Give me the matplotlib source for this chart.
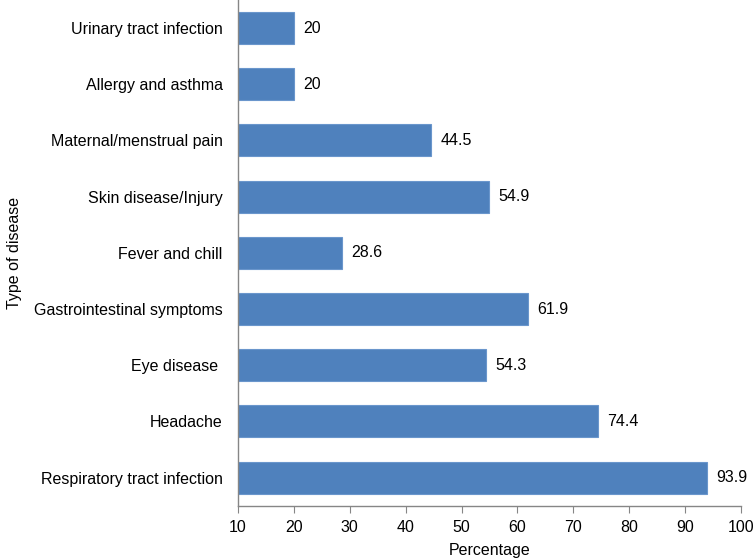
import matplotlib
matplotlib.use("Agg")
import matplotlib.pyplot as plt

plt.rcParams['font.family'] = ['Liberation Sans', 'DejaVu Sans']

diseases = ['Respiratory tract infection', 'Headache', 'Eye disease ', 'Gastrointestinal symptoms',
            'Fever and chill', 'Skin disease/Injury', 'Maternal/menstrual pain',
            'Allergy and asthma', 'Urinary tract infection']
percent = [93.9, 74.4, 54.3, 61.9, 28.6, 54.9, 44.5, 20, 20]
x_ticks = [10, 20, 30, 40, 50, 60, 70, 80, 90, 100]

fs = 11.5
fig = plt.figure(figsize=(7.53, 5.6), dpi=100)
ax = fig.add_axes([0.316, 0.097, 0.668, 0.903])

base = 10
ypos = range(len(diseases))
ax.barh(ypos, [p - base for p in percent], left=base, height=0.57,
        color='#4F81BD', edgecolor='#6A96CC', linewidth=0.8)

for y, p in zip(ypos, percent):
    ax.text(p + 1.7, y, f'{p:g}', va='center', ha='left', fontsize=fs)

ax.set_xlim(10, 100)
ax.set_ylim(-0.5, len(diseases) - 0.5)
ax.set_xticks(x_ticks)
ax.set_yticks(list(ypos))
ax.set_yticklabels(diseases, fontsize=fs)
ax.tick_params(axis='x', labelsize=fs, length=5, color='#868686', direction='out', pad=5)
ax.tick_params(axis='y', length=0, pad=11)

for s in ['top', 'right']:
    ax.spines[s].set_visible(False)
for s in ['left', 'bottom']:
    ax.spines[s].set_color('#868686')
    ax.spines[s].set_linewidth(1.0)

ax.set_xlabel('Percentage', fontsize=fs, labelpad=6)
ax.set_ylabel('Type of disease', fontsize=fs)
ax.yaxis.set_label_coords(-0.43, 0.5)

fig.savefig('out.png', dpi=100)
